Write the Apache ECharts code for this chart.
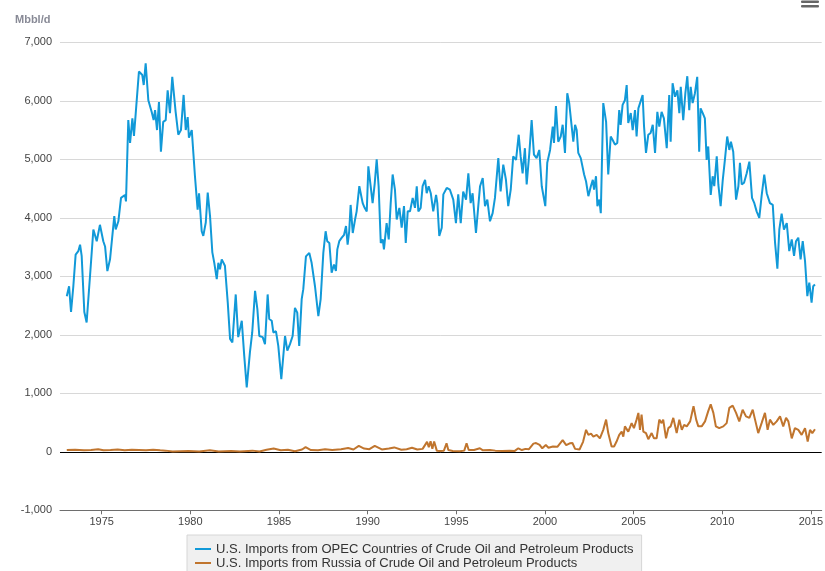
<!DOCTYPE html>
<html>
<head>
<meta charset="utf-8">
<script src="https://cdn.jsdelivr.net/npm/echarts@6/dist/echarts.min.js"></script>
<style>
html,body{margin:0;padding:0;background:#fff;}
#chart{width:825px;height:571px;}
</style>
</head>
<body>
<div id="chart"></div>
<script>
// ---- Data ----
const seriesNames = [
  'U.S. Imports from OPEC Countries of Crude Oil and Petroleum Products',
  'U.S. Imports from Russia of Crude Oil and Petroleum Products'
];
const xTickYears = [1975, 1980, 1985, 1990, 1995, 2000, 2005, 2010, 2015];
const yTicks = { min: -1000, max: 7000, step: 1000 };
const yUnit = 'Mbbl/d';

const opecYears = [
1973.03,1973.16,1973.27,1973.40,1973.53,1973.68,1973.78,1973.87,1974.02,1974.15,1974.34,1974.53,1974.72,1974.90,
1975.09,1975.19,1975.32,1975.47,1975.71,1975.79,1975.94,1976.09,1976.31,1976.37,1976.50,1976.60,1976.73,1976.82,1976.92,
1977.10,1977.29,1977.37,1977.48,1977.63,1977.82,1977.93,1978.01,1978.12,1978.23,1978.34,1978.47,1978.61,1978.72,1978.85,1978.98,
1979.17,1979.32,1979.47,1979.62,1979.74,1979.85,1979.92,1980.08,1980.26,1980.41,1980.49,1980.64,1980.73,1980.87,1980.98,
1981.11,1981.24,1981.35,1981.49,1981.58,1981.67,1981.77,1981.95,1982.11,1982.24,1982.37,1982.56,1982.70,1982.90,
1983.04,1983.18,1983.36,1983.49,1983.65,1983.78,1983.89,1984.08,1984.21,1984.36,1984.45,1984.59,1984.68,1984.83,1984.96,
1985.13,1985.34,1985.47,1985.62,1985.77,1985.90,1986.03,1986.14,1986.28,1986.37,1986.52,1986.71,1986.84,
1987.03,1987.13,1987.22,1987.35,1987.50,1987.63,1987.72,1987.84,1987.97,1988.10,1988.21,1988.29,1988.40,1988.54,1988.67,1988.78,1988.87,1988.96,
1989.04,1989.16,1989.29,1989.38,1989.53,1989.61,1989.72,1989.83,1989.95,1990.04,1990.17,1990.28,1990.40,1990.51,1990.62,1990.74,1990.85,1990.92,
1991.07,1991.19,1991.30,1991.41,1991.54,1991.64,1991.79,1991.92,1992.05,1992.15,1992.26,1992.39,1992.54,1992.67,1992.77,1992.86,1992.99,
1993.10,1993.24,1993.33,1993.44,1993.56,1993.70,1993.86,1993.93,1994.04,1994.18,1994.27,1994.46,1994.64,1994.83,1994.98,
1995.11,1995.25,1995.39,1995.55,1995.68,1995.81,1995.92,1996.11,1996.24,1996.34,1996.49,1996.62,1996.75,1996.90,
1997.05,1997.18,1997.37,1997.50,1997.65,1997.80,1997.93,1998.07,1998.21,1998.37,1998.52,1998.63,1998.74,1998.87,1998.97,
1999.12,1999.25,1999.38,1999.53,1999.68,1999.82,1999.91,2000.02,2000.13,2000.29,2000.44,2000.51,2000.62,2000.75,2000.89,
2001.00,2001.13,2001.26,2001.37,2001.51,2001.60,2001.70,2001.79,2001.88,2002.02,2002.13,2002.21,2002.32,2002.45,2002.59,2002.70,2002.77,2002.88,2002.96,
2003.07,2003.15,2003.29,2003.45,2003.57,2003.71,2003.82,2003.95,2004.08,2004.19,2004.27,2004.38,2004.51,2004.61,2004.70,2004.84,2004.95,
2005.08,2005.17,2005.27,2005.36,2005.51,2005.59,2005.70,2005.83,2005.96,2006.08,2006.21,2006.34,2006.45,2006.58,2006.71,2006.87,
2007.01,2007.09,2007.20,2007.34,2007.47,2007.58,2007.66,2007.80,2007.92,2008.03,2008.14,2008.22,2008.33,2008.46,2008.59,2008.70,2008.78,2008.90,
2009.02,2009.12,2009.21,2009.35,2009.46,2009.55,2009.69,2009.78,2009.91,2010.03,2010.15,2010.28,2010.40,2010.49,2010.62,2010.78,2010.91,
2011.00,2011.10,2011.23,2011.38,2011.53,2011.68,2011.81,2011.94,2012.09,2012.22,2012.37,2012.51,2012.69,2012.85,2012.98,
2013.11,2013.22,2013.35,2013.48,2013.64,2013.78,2013.92,2014.05,2014.16,2014.29,2014.42,2014.54,2014.67,2014.80,2014.91,
2015.04,2015.13,2015.23
];
const opecValues = [
2660,2830,2390,2830,3370,3430,3540,3350,2390,2210,3000,3800,3600,3880,
3600,3510,3090,3290,4030,3800,3940,4340,4390,4280,5670,5280,5700,5400,5790,
6500,6440,6270,6640,6010,5810,5670,5840,5500,5980,5130,5640,5670,6180,5790,6410,
5810,5420,5500,6100,5500,5720,5370,5500,4710,4140,4420,3770,3690,3920,4430,
4030,3410,3230,2950,3230,3120,3290,3180,2550,1930,1870,2690,1960,2240,
1640,1100,1700,2040,2750,2440,1980,1960,1840,2690,2270,2240,2040,2060,1810,
1240,1980,1730,1840,1980,2460,2380,1810,2610,2780,3340,3400,3230,
2830,2800,2320,2610,3400,3770,3600,3570,3060,3200,3090,3460,3600,3660,3710,3860,3540,3770,
4220,3740,3970,4110,4540,4570,4250,4170,4110,4880,4540,4250,4590,5000,4540,3570,3630,3460,
3910,3630,4250,4740,4480,3970,4170,3830,4200,3570,4110,4110,4340,4170,4540,4110,4170,
4540,4650,4420,4540,4420,4110,4390,4250,3690,3830,4400,4510,4480,4310,3910,
4400,3910,4450,4310,4760,4250,4420,3740,4200,4540,4680,4200,4310,3940,
4080,4340,5020,4450,4910,4650,4200,4480,5050,4990,5420,5050,4760,5190,4570,
5110,5670,5080,5020,5160,4540,4570,4200,4940,5160,5560,5280,5910,5300,5390,
5590,5110,6130,5960,5560,5300,5590,5500,5110,5020,4990,4740,4620,4370,4540,4650,4480,4710,4200,
4310,4080,5960,5640,4740,5390,5330,5250,5280,5840,5590,5930,6010,6270,5620,5790,5500,
5840,5390,5870,5900,6100,5560,5110,5420,5450,5590,5110,5810,5560,5810,5700,5190,
6100,5300,6300,6070,6180,5790,6240,5670,6130,6420,5840,6240,5960,6130,6410,5130,5870,5790,
5700,4990,5220,4390,4710,4540,5050,4570,4200,4650,4990,5390,5160,5300,5130,4310,4540,
4940,4570,4600,4760,4960,4340,4250,4110,4000,4370,4740,4420,4250,4220,3570,
3130,3800,4070,3800,3910,3430,3630,3350,3600,3660,3290,3600,3260,2660,2890,
2550,2830,2860
];

const russiaYears = [
1973.03,1973.5,1974.0,1974.4,1974.8,1975.1,1975.5,1975.9,1976.3,1976.7,1977.1,1977.5,1977.9,1978.3,1978.6,1979.0,1979.9,
1980.5,1981.1,1981.6,1982.3,1982.8,1983.5,1983.9,1984.3,1984.7,1985.1,1985.5,1985.9,1986.3,1986.5,1986.8,
1987.2,1987.6,1988.0,1988.5,1988.9,1989.2,1989.5,1989.8,1990.1,1990.4,1990.8,1991.2,1991.5,1991.9,1992.2,1992.5,1992.8,
1993.1,1993.35,1993.45,1993.55,1993.65,1993.75,1993.9,1994.1,1994.3,1994.45,1994.55,1994.8,1995.2,1995.45,1995.58,1995.7,
1996.0,1996.33,1996.5,1996.9,1997.2,1997.6,1998.0,1998.3,1998.5,1998.7,1998.9,1999.1,1999.35,1999.5,1999.7,1999.85,
2000.05,2000.2,2000.45,2000.7,2001.0,2001.2,2001.4,2001.55,2001.7,2001.95,2002.15,2002.25,2002.32,2002.45,2002.6,2002.73,2002.92,
2003.1,2003.29,2003.45,2003.57,2003.76,2003.9,2004.04,2004.19,2004.33,2004.42,2004.51,2004.70,2004.89,
2005.02,2005.17,2005.27,2005.36,2005.45,2005.55,2005.70,2005.83,2006.02,2006.15,2006.30,2006.45,2006.58,2006.67,2006.83,2006.96,
2007.09,2007.24,2007.43,2007.58,2007.72,2007.85,2008.00,2008.19,2008.38,2008.53,2008.65,2008.84,
2009.03,2009.21,2009.35,2009.50,2009.64,2009.83,2010.06,2010.25,2010.40,2010.59,2010.78,2010.96,
2011.15,2011.34,2011.53,2011.72,2011.85,2012.03,2012.22,2012.41,2012.56,2012.69,2012.88,
2013.07,2013.26,2013.44,2013.60,2013.73,2013.92,2014.10,2014.29,2014.48,2014.67,2014.82,2014.95,2015.08,2015.23
];
const russiaValues = [
30,35,25,30,45,25,30,40,25,35,30,25,35,25,20,5,15,
5,25,5,15,5,20,5,35,55,25,35,10,40,80,30,
25,45,30,45,65,40,100,55,45,100,40,55,75,35,45,70,40,
50,170,80,180,50,175,20,15,20,145,30,15,10,20,145,30,
30,60,25,30,20,15,20,15,60,30,50,45,140,150,120,60,
115,70,90,85,200,115,145,150,50,40,170,190,375,290,310,260,290,
230,375,550,320,90,90,175,290,345,260,435,345,490,
405,550,665,375,635,345,320,215,320,230,230,550,490,550,230,405,
435,580,320,550,375,460,435,520,780,550,435,435,
520,695,810,665,435,405,435,490,750,790,665,520,
720,605,580,720,550,320,490,665,375,550,460,
520,605,435,580,520,230,405,375,290,405,175,375,320,385
];

// ---- Chart ----
const FONT = '"Liberation Sans", Arial, sans-serif';
const opecData = opecYears.map((y, i) => [y, opecValues[i]]);
const russiaData = russiaYears.map((y, i) => [y, russiaValues[i]]);

const splitCount = (yTicks.max - yTicks.min) / yTicks.step + 1;
const splitColors = [];
for (let i = 0; i < splitCount; i++) {
  const v = yTicks.min + i * yTicks.step;
  splitColors.push(v === 0 ? '#000000' : '#d8d8d8');
}

const chart = echarts.init(document.getElementById('chart'), null, { renderer: 'canvas' });
chart.setOption({
  animation: false,
  backgroundColor: '#ffffff',
  textStyle: { fontFamily: FONT },
  title: {
    text: yUnit, left: 10, top: 9,
    textStyle: { fontSize: 11, fontWeight: 'bold', color: '#888a96', fontFamily: FONT }
  },
  grid: { left: 60, right: 3.3, top: 42.3, bottom: 60.7, containLabel: false, outerBoundsMode: 'none' },
  xAxis: {
    type: 'value',
    min: 1972.648, max: 2015.61,
    axisLine: { show: true, onZero: false, lineStyle: { color: '#6e6e6e', width: 1 } },
    axisTick: { show: true, length: 4, customValues: xTickYears, lineStyle: { color: '#6e6e6e' } },
    axisLabel: {
      customValues: xTickYears, margin: 6,
      fontSize: 11, color: '#444444', fontFamily: FONT,
      formatter: v => String(Math.round(v))
    },
    splitLine: { show: false }
  },
  yAxis: {
    type: 'value',
    min: yTicks.min, max: yTicks.max, interval: yTicks.step,
    axisLine: { show: false },
    axisTick: { show: false },
    axisLabel: {
      margin: 8, fontSize: 11, color: '#444444', fontFamily: FONT,
      formatter: v => v.toLocaleString('en-US')
    },
    splitLine: { show: true, lineStyle: { color: splitColors, width: 1 } }
  },
  legend: {
    type: 'plain', orient: 'vertical', left: 187, top: 535, width: 480, height: 40,
    backgroundColor: '#f0f0f0', borderColor: '#d6d6d6', borderWidth: 1, borderRadius: 0,
    padding: [7, 8, 6, 8], itemGap: 0, itemWidth: 16, itemHeight: 2, icon: 'rect',
    textStyle: { fontSize: 13, lineHeight: 14, color: '#333333', fontFamily: FONT },
    data: seriesNames
  },
  graphic: [
    { type: 'rect', shape: { x: 801, y: 0.5, width: 18, height: 2.4, r: 1 }, style: { fill: '#666666' }, silent: true },
    { type: 'rect', shape: { x: 801, y: 5, width: 18, height: 2.4, r: 1 }, style: { fill: '#666666' }, silent: true }
  ],
  series: [
    {
      name: seriesNames[0], type: 'line', data: opecData,
      showSymbol: false, symbol: 'none',
      lineStyle: { color: '#1199d8', width: 2 }, itemStyle: { color: '#1199d8' }
    },
    {
      name: seriesNames[1], type: 'line', data: russiaData,
      showSymbol: false, symbol: 'none',
      lineStyle: { color: '#c0752e', width: 2 }, itemStyle: { color: '#c0752e' }
    }
  ]
});
</script>
</body>
</html>
